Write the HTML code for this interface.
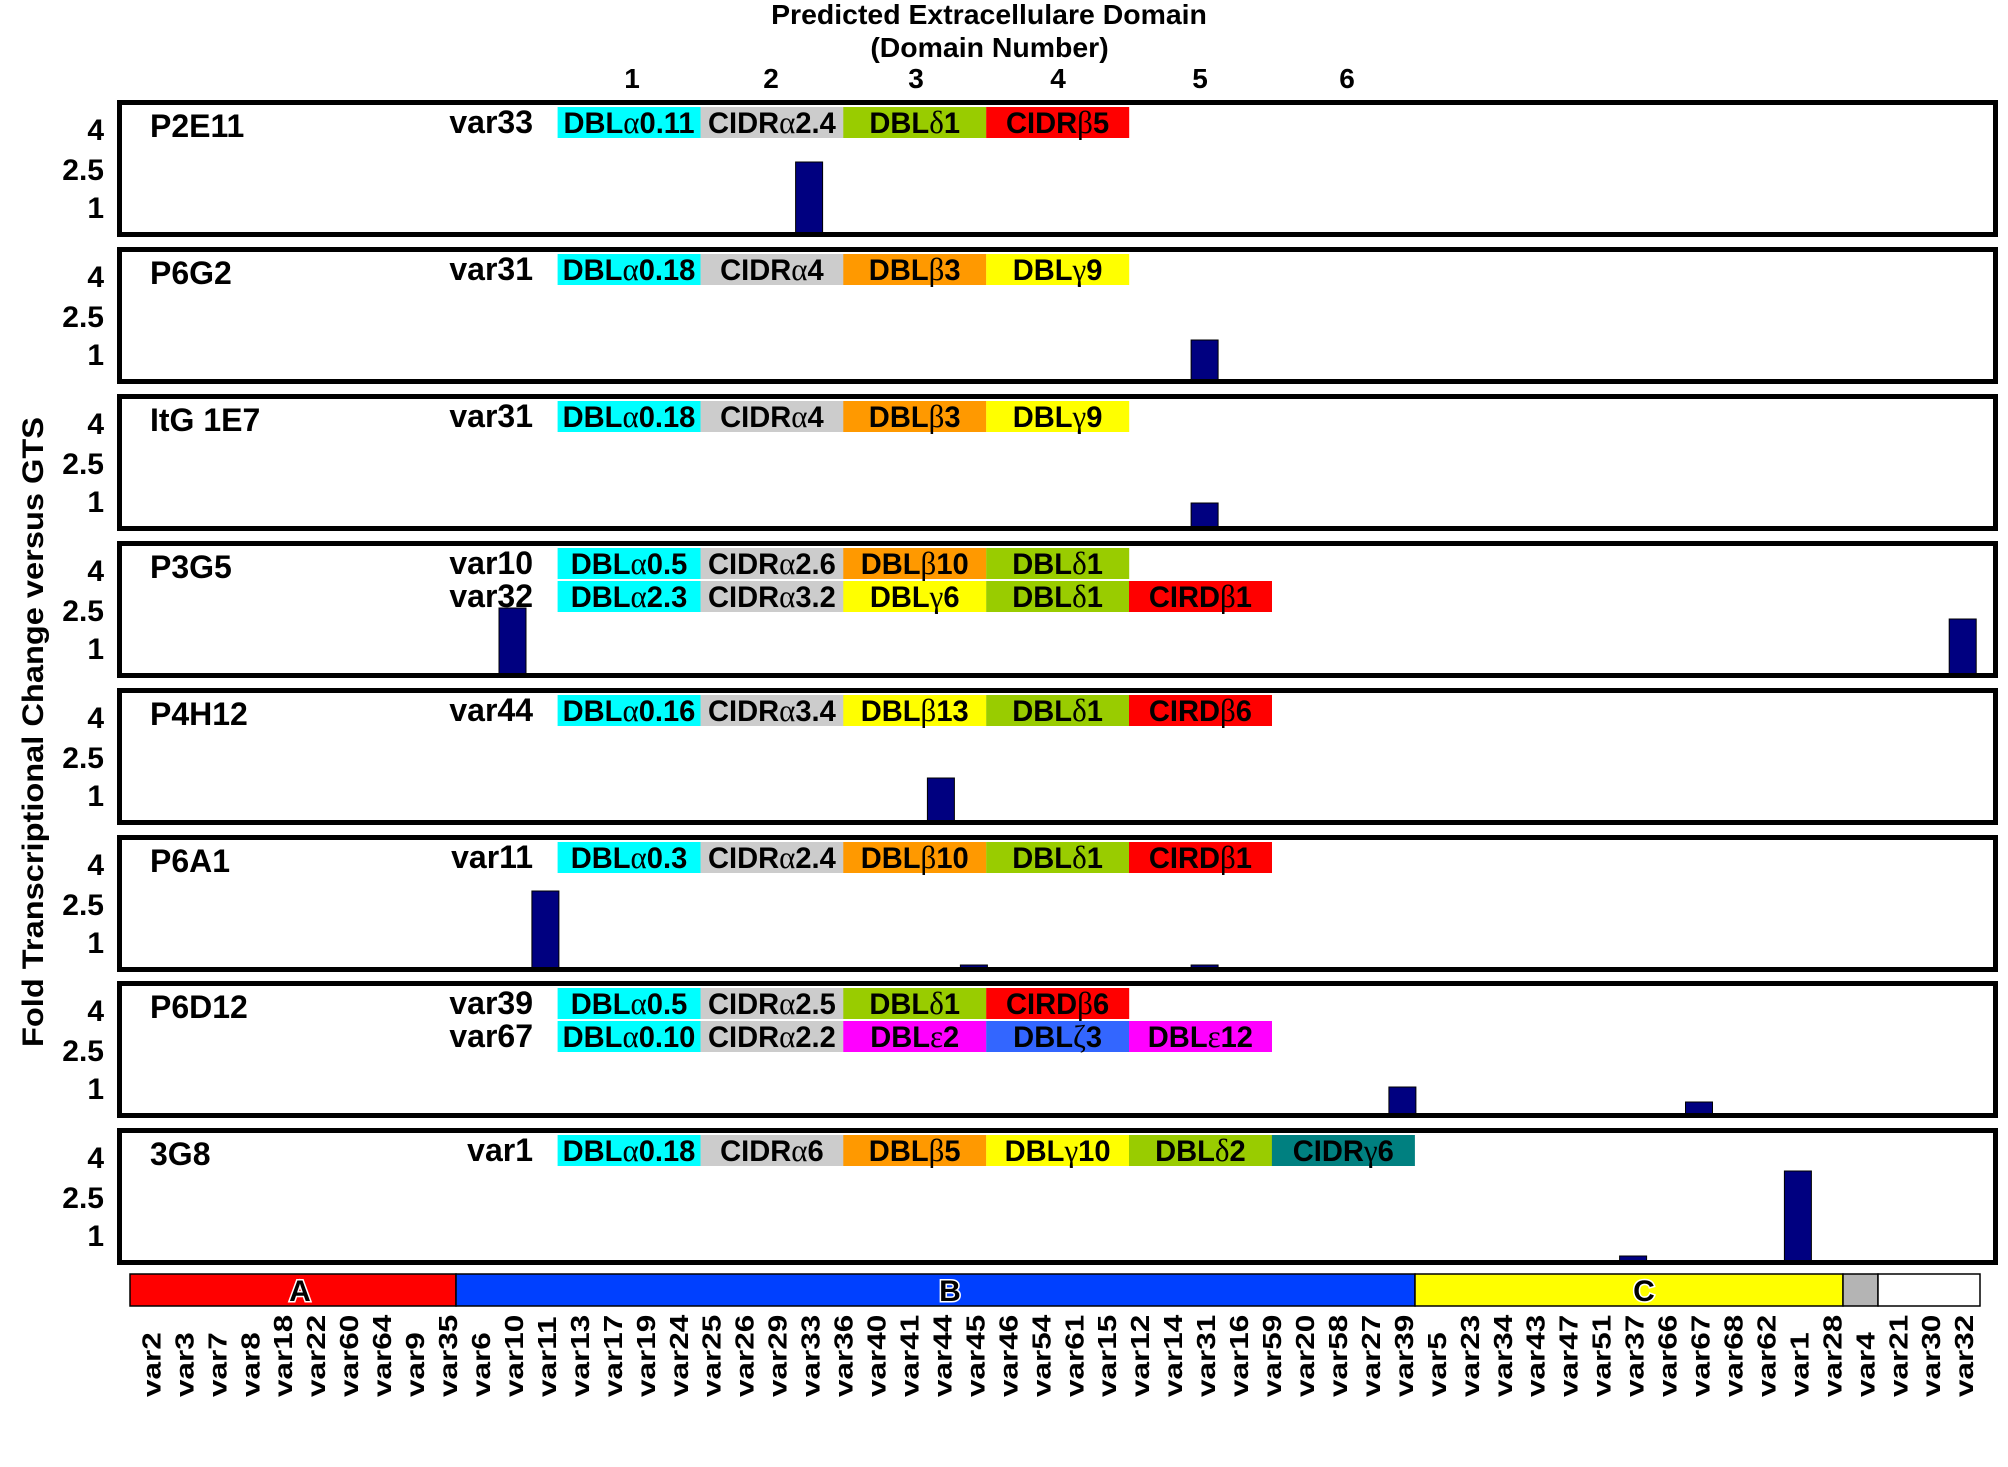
<!DOCTYPE html>
<html>
<head>
<meta charset="utf-8">
<style>
html,body{margin:0;padding:0;background:#fff;}
svg{display:block;}
text{font-family:"Liberation Sans",Arial,sans-serif;font-weight:bold;fill:#000;}
.t{font-size:28px;text-anchor:middle;}
.dn{font-size:28px;text-anchor:middle;}
.tk{font-size:30px;text-anchor:end;}
.pl{font-size:32px;}
.vl{font-size:32px;text-anchor:end;}
.b{font-size:30px;text-anchor:middle;}
.g{font-family:"Liberation Serif",serif;font-weight:normal;font-size:32px;}
.xl{font-size:26px;}
.fr{fill:none;stroke:#000;stroke-width:5;}
.bar{fill:#000080;stroke:#000;stroke-width:1;}
.cb{stroke:#000;stroke-width:1.5;}
.L{font-size:30px;text-anchor:middle;stroke:#fff;stroke-width:3;paint-order:stroke;}
</style>
</head>
<body>
<svg width="2008" height="1467" viewBox="0 0 2008 1467" xmlns="http://www.w3.org/2000/svg">
<rect width="2008" height="1467" fill="#fff"/>

<!-- Titles -->
<text class="t" transform="translate(989,24) scale(1.015,1)">Predicted Extracellulare Domain</text>
<text class="t" transform="translate(989.5,57) scale(1.015,1)">(Domain Number)</text>
<text class="dn" x="632" y="88">1</text>
<text class="dn" x="771" y="88">2</text>
<text class="dn" x="916" y="88">3</text>
<text class="dn" x="1058" y="88">4</text>
<text class="dn" x="1200" y="88">5</text>
<text class="dn" x="1347" y="88">6</text>

<!-- Y axis title -->
<text style="font-size:30px" transform="translate(43,1047) rotate(-90)" textLength="630" lengthAdjust="spacingAndGlyphs">Fold Transcriptional Change versus GTS</text>

<!-- ===== Bars (drawn under frames) ===== -->
<rect class="bar" x="795.6" y="162" width="27" height="71"/>
<rect class="bar" x="1191.1" y="340" width="27" height="40"/>
<rect class="bar" x="1191.1" y="503" width="27" height="24"/>
<rect class="bar" x="499.0" y="608" width="27" height="66"/>
<rect class="bar" x="1949.2" y="619" width="27" height="55"/>
<rect class="bar" x="927.4" y="778" width="27" height="43"/>
<rect class="bar" x="531.9" y="891" width="27" height="77"/>
<rect class="bar" x="960.4" y="965" width="27" height="3"/>
<rect class="bar" x="1191.1" y="965" width="27" height="3"/>
<rect class="bar" x="1388.9" y="1087" width="27" height="27"/>
<rect class="bar" x="1685.5" y="1102" width="27" height="12"/>
<rect class="bar" x="1784.4" y="1171" width="27" height="90"/>
<rect class="bar" x="1619.6" y="1256" width="27" height="5"/>

<!-- ===== Frames ===== -->
<rect class="fr" x="119.5" y="102.5" width="1876" height="132"/>
<rect class="fr" x="119.5" y="249.5" width="1876" height="132"/>
<rect class="fr" x="119.5" y="396.5" width="1876" height="132"/>
<rect class="fr" x="119.5" y="543.5" width="1876" height="132"/>
<rect class="fr" x="119.5" y="690.5" width="1876" height="132"/>
<rect class="fr" x="119.5" y="837.5" width="1876" height="132"/>
<rect class="fr" x="119.5" y="983.5" width="1876" height="132"/>
<rect class="fr" x="119.5" y="1130.5" width="1876" height="132"/>

<!-- ===== Tick labels ===== -->
<g>
<text class="tk" x="104" y="140">4</text>
<text class="tk" x="104" y="180">2.5</text>
<text class="tk" x="104" y="218">1</text>
<text class="tk" x="104" y="287">4</text>
<text class="tk" x="104" y="327">2.5</text>
<text class="tk" x="104" y="365">1</text>
<text class="tk" x="104" y="434">4</text>
<text class="tk" x="104" y="474">2.5</text>
<text class="tk" x="104" y="512">1</text>
<text class="tk" x="104" y="581">4</text>
<text class="tk" x="104" y="621">2.5</text>
<text class="tk" x="104" y="659">1</text>
<text class="tk" x="104" y="728">4</text>
<text class="tk" x="104" y="768">2.5</text>
<text class="tk" x="104" y="806">1</text>
<text class="tk" x="104" y="875">4</text>
<text class="tk" x="104" y="915">2.5</text>
<text class="tk" x="104" y="953">1</text>
<text class="tk" x="104" y="1021">4</text>
<text class="tk" x="104" y="1061">2.5</text>
<text class="tk" x="104" y="1099">1</text>
<text class="tk" x="104" y="1168">4</text>
<text class="tk" x="104" y="1208">2.5</text>
<text class="tk" x="104" y="1246">1</text>
</g>

<!-- ===== Panel labels & var names ===== -->
<text class="pl" x="150" y="137">P2E11</text>
<text class="vl" x="533" y="133">var33</text>
<text class="pl" x="150" y="284">P6G2</text>
<text class="vl" x="533" y="280">var31</text>
<text class="pl" x="150" y="431">ItG 1E7</text>
<text class="vl" x="533" y="427">var31</text>
<text class="pl" x="150" y="578">P3G5</text>
<text class="vl" x="533" y="574">var10</text>
<text class="vl" x="533" y="607">var32</text>
<text class="pl" x="150" y="725">P4H12</text>
<text class="vl" x="533" y="721">var44</text>
<text class="pl" x="150" y="872">P6A1</text>
<text class="vl" x="533" y="868">var11</text>
<text class="pl" x="150" y="1018">P6D12</text>
<text class="vl" x="533" y="1014">var39</text>
<text class="vl" x="533" y="1047">var67</text>
<text class="pl" x="150" y="1165">3G8</text>
<text class="vl" x="533" y="1161">var1</text>

<!-- ===== Domain boxes ===== -->
<!-- P1 -->
<rect x="557.6" y="107" width="143" height="31" fill="#00FFFF"/>
<rect x="700.5" y="107" width="143" height="31" fill="#CCCCCC"/>
<rect x="843.3" y="107" width="143" height="31" fill="#99CC00"/>
<rect x="986.2" y="107" width="143" height="31" fill="#FF0000"/>
<text class="b" transform="translate(629,133) scale(0.97,1)">DBL<tspan class="g">α</tspan>0.11</text>
<text class="b" transform="translate(771.9,133) scale(0.97,1)">CIDR<tspan class="g">α</tspan>2.4</text>
<text class="b" transform="translate(914.7,133) scale(0.97,1)">DBL<tspan class="g">δ</tspan>1</text>
<text class="b" transform="translate(1057.6,133) scale(0.97,1)">CIDR<tspan class="g">β</tspan>5</text>

<!-- P2 -->
<rect x="557.6" y="254" width="143" height="31" fill="#00FFFF"/>
<rect x="700.5" y="254" width="143" height="31" fill="#CCCCCC"/>
<rect x="843.3" y="254" width="143" height="31" fill="#FF9900"/>
<rect x="986.2" y="254" width="143" height="31" fill="#FFFF00"/>
<text class="b" transform="translate(629,280) scale(0.97,1)">DBL<tspan class="g">α</tspan>0.18</text>
<text class="b" transform="translate(771.9,280) scale(0.97,1)">CIDR<tspan class="g">α</tspan>4</text>
<text class="b" transform="translate(914.7,280) scale(0.97,1)">DBL<tspan class="g">β</tspan>3</text>
<text class="b" transform="translate(1057.6,280) scale(0.97,1)">DBL<tspan class="g">γ</tspan>9</text>

<!-- P3 -->
<rect x="557.6" y="401" width="143" height="31" fill="#00FFFF"/>
<rect x="700.5" y="401" width="143" height="31" fill="#CCCCCC"/>
<rect x="843.3" y="401" width="143" height="31" fill="#FF9900"/>
<rect x="986.2" y="401" width="143" height="31" fill="#FFFF00"/>
<text class="b" transform="translate(629,427) scale(0.97,1)">DBL<tspan class="g">α</tspan>0.18</text>
<text class="b" transform="translate(771.9,427) scale(0.97,1)">CIDR<tspan class="g">α</tspan>4</text>
<text class="b" transform="translate(914.7,427) scale(0.97,1)">DBL<tspan class="g">β</tspan>3</text>
<text class="b" transform="translate(1057.6,427) scale(0.97,1)">DBL<tspan class="g">γ</tspan>9</text>

<!-- P4 row1 -->
<rect x="557.6" y="548" width="143" height="31" fill="#00FFFF"/>
<rect x="700.5" y="548" width="143" height="31" fill="#CCCCCC"/>
<rect x="843.3" y="548" width="143" height="31" fill="#FF9900"/>
<rect x="986.2" y="548" width="143" height="31" fill="#99CC00"/>
<text class="b" transform="translate(629,574) scale(0.97,1)">DBL<tspan class="g">α</tspan>0.5</text>
<text class="b" transform="translate(771.9,574) scale(0.97,1)">CIDR<tspan class="g">α</tspan>2.6</text>
<text class="b" transform="translate(914.7,574) scale(0.97,1)">DBL<tspan class="g">β</tspan>10</text>
<text class="b" transform="translate(1057.6,574) scale(0.97,1)">DBL<tspan class="g">δ</tspan>1</text>
<!-- P4 row2 -->
<rect x="557.6" y="581" width="143" height="31" fill="#00FFFF"/>
<rect x="700.5" y="581" width="143" height="31" fill="#CCCCCC"/>
<rect x="843.3" y="581" width="143" height="31" fill="#FFFF00"/>
<rect x="986.2" y="581" width="143" height="31" fill="#99CC00"/>
<rect x="1129.0" y="581" width="143" height="31" fill="#FF0000"/>
<text class="b" transform="translate(629,607) scale(0.97,1)">DBL<tspan class="g">α</tspan>2.3</text>
<text class="b" transform="translate(771.9,607) scale(0.97,1)">CIDR<tspan class="g">α</tspan>3.2</text>
<text class="b" transform="translate(914.7,607) scale(0.97,1)">DBL<tspan class="g">γ</tspan>6</text>
<text class="b" transform="translate(1057.6,607) scale(0.97,1)">DBL<tspan class="g">δ</tspan>1</text>
<text class="b" transform="translate(1200.4,607) scale(0.97,1)">CIRD<tspan class="g">β</tspan>1</text>

<!-- P5 -->
<rect x="557.6" y="695" width="143" height="31" fill="#00FFFF"/>
<rect x="700.5" y="695" width="143" height="31" fill="#CCCCCC"/>
<rect x="843.3" y="695" width="143" height="31" fill="#FFFF00"/>
<rect x="986.2" y="695" width="143" height="31" fill="#99CC00"/>
<rect x="1129.0" y="695" width="143" height="31" fill="#FF0000"/>
<text class="b" transform="translate(629,721) scale(0.97,1)">DBL<tspan class="g">α</tspan>0.16</text>
<text class="b" transform="translate(771.9,721) scale(0.97,1)">CIDR<tspan class="g">α</tspan>3.4</text>
<text class="b" transform="translate(914.7,721) scale(0.97,1)">DBL<tspan class="g">β</tspan>13</text>
<text class="b" transform="translate(1057.6,721) scale(0.97,1)">DBL<tspan class="g">δ</tspan>1</text>
<text class="b" transform="translate(1200.4,721) scale(0.97,1)">CIRD<tspan class="g">β</tspan>6</text>

<!-- P6 -->
<rect x="557.6" y="842" width="143" height="31" fill="#00FFFF"/>
<rect x="700.5" y="842" width="143" height="31" fill="#CCCCCC"/>
<rect x="843.3" y="842" width="143" height="31" fill="#FF9900"/>
<rect x="986.2" y="842" width="143" height="31" fill="#99CC00"/>
<rect x="1129.0" y="842" width="143" height="31" fill="#FF0000"/>
<text class="b" transform="translate(629,868) scale(0.97,1)">DBL<tspan class="g">α</tspan>0.3</text>
<text class="b" transform="translate(771.9,868) scale(0.97,1)">CIDR<tspan class="g">α</tspan>2.4</text>
<text class="b" transform="translate(914.7,868) scale(0.97,1)">DBL<tspan class="g">β</tspan>10</text>
<text class="b" transform="translate(1057.6,868) scale(0.97,1)">DBL<tspan class="g">δ</tspan>1</text>
<text class="b" transform="translate(1200.4,868) scale(0.97,1)">CIRD<tspan class="g">β</tspan>1</text>

<!-- P7 row1 -->
<rect x="557.6" y="988" width="143" height="31" fill="#00FFFF"/>
<rect x="700.5" y="988" width="143" height="31" fill="#CCCCCC"/>
<rect x="843.3" y="988" width="143" height="31" fill="#99CC00"/>
<rect x="986.2" y="988" width="143" height="31" fill="#FF0000"/>
<text class="b" transform="translate(629,1014) scale(0.97,1)">DBL<tspan class="g">α</tspan>0.5</text>
<text class="b" transform="translate(771.9,1014) scale(0.97,1)">CIDR<tspan class="g">α</tspan>2.5</text>
<text class="b" transform="translate(914.7,1014) scale(0.97,1)">DBL<tspan class="g">δ</tspan>1</text>
<text class="b" transform="translate(1057.6,1014) scale(0.97,1)">CIRD<tspan class="g">β</tspan>6</text>
<!-- P7 row2 -->
<rect x="557.6" y="1021" width="143" height="31" fill="#00FFFF"/>
<rect x="700.5" y="1021" width="143" height="31" fill="#CCCCCC"/>
<rect x="843.3" y="1021" width="143" height="31" fill="#FF00FF"/>
<rect x="986.2" y="1021" width="143" height="31" fill="#3366FF"/>
<rect x="1129.0" y="1021" width="143" height="31" fill="#FF00FF"/>
<text class="b" transform="translate(629,1047) scale(0.97,1)">DBL<tspan class="g">α</tspan>0.10</text>
<text class="b" transform="translate(771.9,1047) scale(0.97,1)">CIDR<tspan class="g">α</tspan>2.2</text>
<text class="b" transform="translate(914.7,1047) scale(0.97,1)">DBL<tspan class="g">ε</tspan>2</text>
<text class="b" transform="translate(1057.6,1047) scale(0.97,1)">DBL<tspan class="g">ζ</tspan>3</text>
<text class="b" transform="translate(1200.4,1047) scale(0.97,1)">DBL<tspan class="g">ε</tspan>12</text>

<!-- P8 -->
<rect x="557.6" y="1135" width="143" height="31" fill="#00FFFF"/>
<rect x="700.5" y="1135" width="143" height="31" fill="#CCCCCC"/>
<rect x="843.3" y="1135" width="143" height="31" fill="#FF9900"/>
<rect x="986.2" y="1135" width="143" height="31" fill="#FFFF00"/>
<rect x="1129.0" y="1135" width="143" height="31" fill="#99CC00"/>
<rect x="1271.9" y="1135" width="143" height="31" fill="#008080"/>
<text class="b" transform="translate(629,1161) scale(0.97,1)">DBL<tspan class="g">α</tspan>0.18</text>
<text class="b" transform="translate(771.9,1161) scale(0.97,1)">CIDR<tspan class="g">α</tspan>6</text>
<text class="b" transform="translate(914.7,1161) scale(0.97,1)">DBL<tspan class="g">β</tspan>5</text>
<text class="b" transform="translate(1057.6,1161) scale(0.97,1)">DBL<tspan class="g">γ</tspan>10</text>
<text class="b" transform="translate(1200.4,1161) scale(0.97,1)">DBL<tspan class="g">δ</tspan>2</text>
<text class="b" transform="translate(1343.3,1161) scale(0.97,1)">CIDR<tspan class="g">γ</tspan>6</text>

<!-- ===== Group colour bar ===== -->
<rect class="cb" x="130" y="1274" width="326" height="32" fill="#FF0000"/>
<rect class="cb" x="456" y="1274" width="959" height="32" fill="#0040FF"/>
<rect class="cb" x="1415" y="1274" width="428" height="32" fill="#FFFF00"/>
<rect class="cb" x="1843" y="1274" width="35" height="32" fill="#B4B4B4"/>
<rect class="cb" x="1878" y="1274" width="102" height="32" fill="#FFFFFF"/>
<text class="L" x="300" y="1301">A</text>
<text class="L" x="950" y="1301">B</text>
<text class="L" x="1644" y="1301">C</text>

<!-- ===== var labels ===== -->
<g class="xl">
<text class="xl" transform="translate(160.4,1397) rotate(-90) scale(1.21,1)">var2</text>
<text class="xl" transform="translate(193.4,1397) rotate(-90) scale(1.21,1)">var3</text>
<text class="xl" transform="translate(226.3,1397) rotate(-90) scale(1.21,1)">var7</text>
<text class="xl" transform="translate(259.3,1397) rotate(-90) scale(1.21,1)">var8</text>
<text class="xl" transform="translate(292.2,1397) rotate(-90) scale(1.21,1)">var18</text>
<text class="xl" transform="translate(325.2,1397) rotate(-90) scale(1.21,1)">var22</text>
<text class="xl" transform="translate(358.2,1397) rotate(-90) scale(1.21,1)">var60</text>
<text class="xl" transform="translate(391.1,1397) rotate(-90) scale(1.21,1)">var64</text>
<text class="xl" transform="translate(424.1,1397) rotate(-90) scale(1.21,1)">var9</text>
<text class="xl" transform="translate(457.0,1397) rotate(-90) scale(1.21,1)">var35</text>
<text class="xl" transform="translate(490.0,1397) rotate(-90) scale(1.21,1)">var6</text>
<text class="xl" transform="translate(523.0,1397) rotate(-90) scale(1.21,1)">var10</text>
<text class="xl" transform="translate(555.9,1397) rotate(-90) scale(1.21,1)">var11</text>
<text class="xl" transform="translate(588.9,1397) rotate(-90) scale(1.21,1)">var13</text>
<text class="xl" transform="translate(621.8,1397) rotate(-90) scale(1.21,1)">var17</text>
<text class="xl" transform="translate(654.8,1397) rotate(-90) scale(1.21,1)">var19</text>
<text class="xl" transform="translate(687.8,1397) rotate(-90) scale(1.21,1)">var24</text>
<text class="xl" transform="translate(720.7,1397) rotate(-90) scale(1.21,1)">var25</text>
<text class="xl" transform="translate(753.7,1397) rotate(-90) scale(1.21,1)">var26</text>
<text class="xl" transform="translate(786.6,1397) rotate(-90) scale(1.21,1)">var29</text>
<text class="xl" transform="translate(819.6,1397) rotate(-90) scale(1.21,1)">var33</text>
<text class="xl" transform="translate(852.6,1397) rotate(-90) scale(1.21,1)">var36</text>
<text class="xl" transform="translate(885.5,1397) rotate(-90) scale(1.21,1)">var40</text>
<text class="xl" transform="translate(918.5,1397) rotate(-90) scale(1.21,1)">var41</text>
<text class="xl" transform="translate(951.4,1397) rotate(-90) scale(1.21,1)">var44</text>
<text class="xl" transform="translate(984.4,1397) rotate(-90) scale(1.21,1)">var45</text>
<text class="xl" transform="translate(1017.4,1397) rotate(-90) scale(1.21,1)">var46</text>
<text class="xl" transform="translate(1050.3,1397) rotate(-90) scale(1.21,1)">var54</text>
<text class="xl" transform="translate(1083.3,1397) rotate(-90) scale(1.21,1)">var61</text>
<text class="xl" transform="translate(1116.2,1397) rotate(-90) scale(1.21,1)">var15</text>
<text class="xl" transform="translate(1149.2,1397) rotate(-90) scale(1.21,1)">var12</text>
<text class="xl" transform="translate(1182.2,1397) rotate(-90) scale(1.21,1)">var14</text>
<text class="xl" transform="translate(1215.1,1397) rotate(-90) scale(1.21,1)">var31</text>
<text class="xl" transform="translate(1248.1,1397) rotate(-90) scale(1.21,1)">var16</text>
<text class="xl" transform="translate(1281.0,1397) rotate(-90) scale(1.21,1)">var59</text>
<text class="xl" transform="translate(1314.0,1397) rotate(-90) scale(1.21,1)">var20</text>
<text class="xl" transform="translate(1347.0,1397) rotate(-90) scale(1.21,1)">var58</text>
<text class="xl" transform="translate(1379.9,1397) rotate(-90) scale(1.21,1)">var27</text>
<text class="xl" transform="translate(1412.9,1397) rotate(-90) scale(1.21,1)">var39</text>
<text class="xl" transform="translate(1445.8,1397) rotate(-90) scale(1.21,1)">var5</text>
<text class="xl" transform="translate(1478.8,1397) rotate(-90) scale(1.21,1)">var23</text>
<text class="xl" transform="translate(1511.8,1397) rotate(-90) scale(1.21,1)">var34</text>
<text class="xl" transform="translate(1544.7,1397) rotate(-90) scale(1.21,1)">var43</text>
<text class="xl" transform="translate(1577.7,1397) rotate(-90) scale(1.21,1)">var47</text>
<text class="xl" transform="translate(1610.6,1397) rotate(-90) scale(1.21,1)">var51</text>
<text class="xl" transform="translate(1643.6,1397) rotate(-90) scale(1.21,1)">var37</text>
<text class="xl" transform="translate(1676.6,1397) rotate(-90) scale(1.21,1)">var66</text>
<text class="xl" transform="translate(1709.5,1397) rotate(-90) scale(1.21,1)">var67</text>
<text class="xl" transform="translate(1742.5,1397) rotate(-90) scale(1.21,1)">var68</text>
<text class="xl" transform="translate(1775.4,1397) rotate(-90) scale(1.21,1)">var62</text>
<text class="xl" transform="translate(1808.4,1397) rotate(-90) scale(1.21,1)">var1</text>
<text class="xl" transform="translate(1841.4,1397) rotate(-90) scale(1.21,1)">var28</text>
<text class="xl" transform="translate(1874.3,1397) rotate(-90) scale(1.21,1)">var4</text>
<text class="xl" transform="translate(1907.3,1397) rotate(-90) scale(1.21,1)">var21</text>
<text class="xl" transform="translate(1940.2,1397) rotate(-90) scale(1.21,1)">var30</text>
<text class="xl" transform="translate(1973.2,1397) rotate(-90) scale(1.21,1)">var32</text>
</g>
</svg>
</body>
</html>
